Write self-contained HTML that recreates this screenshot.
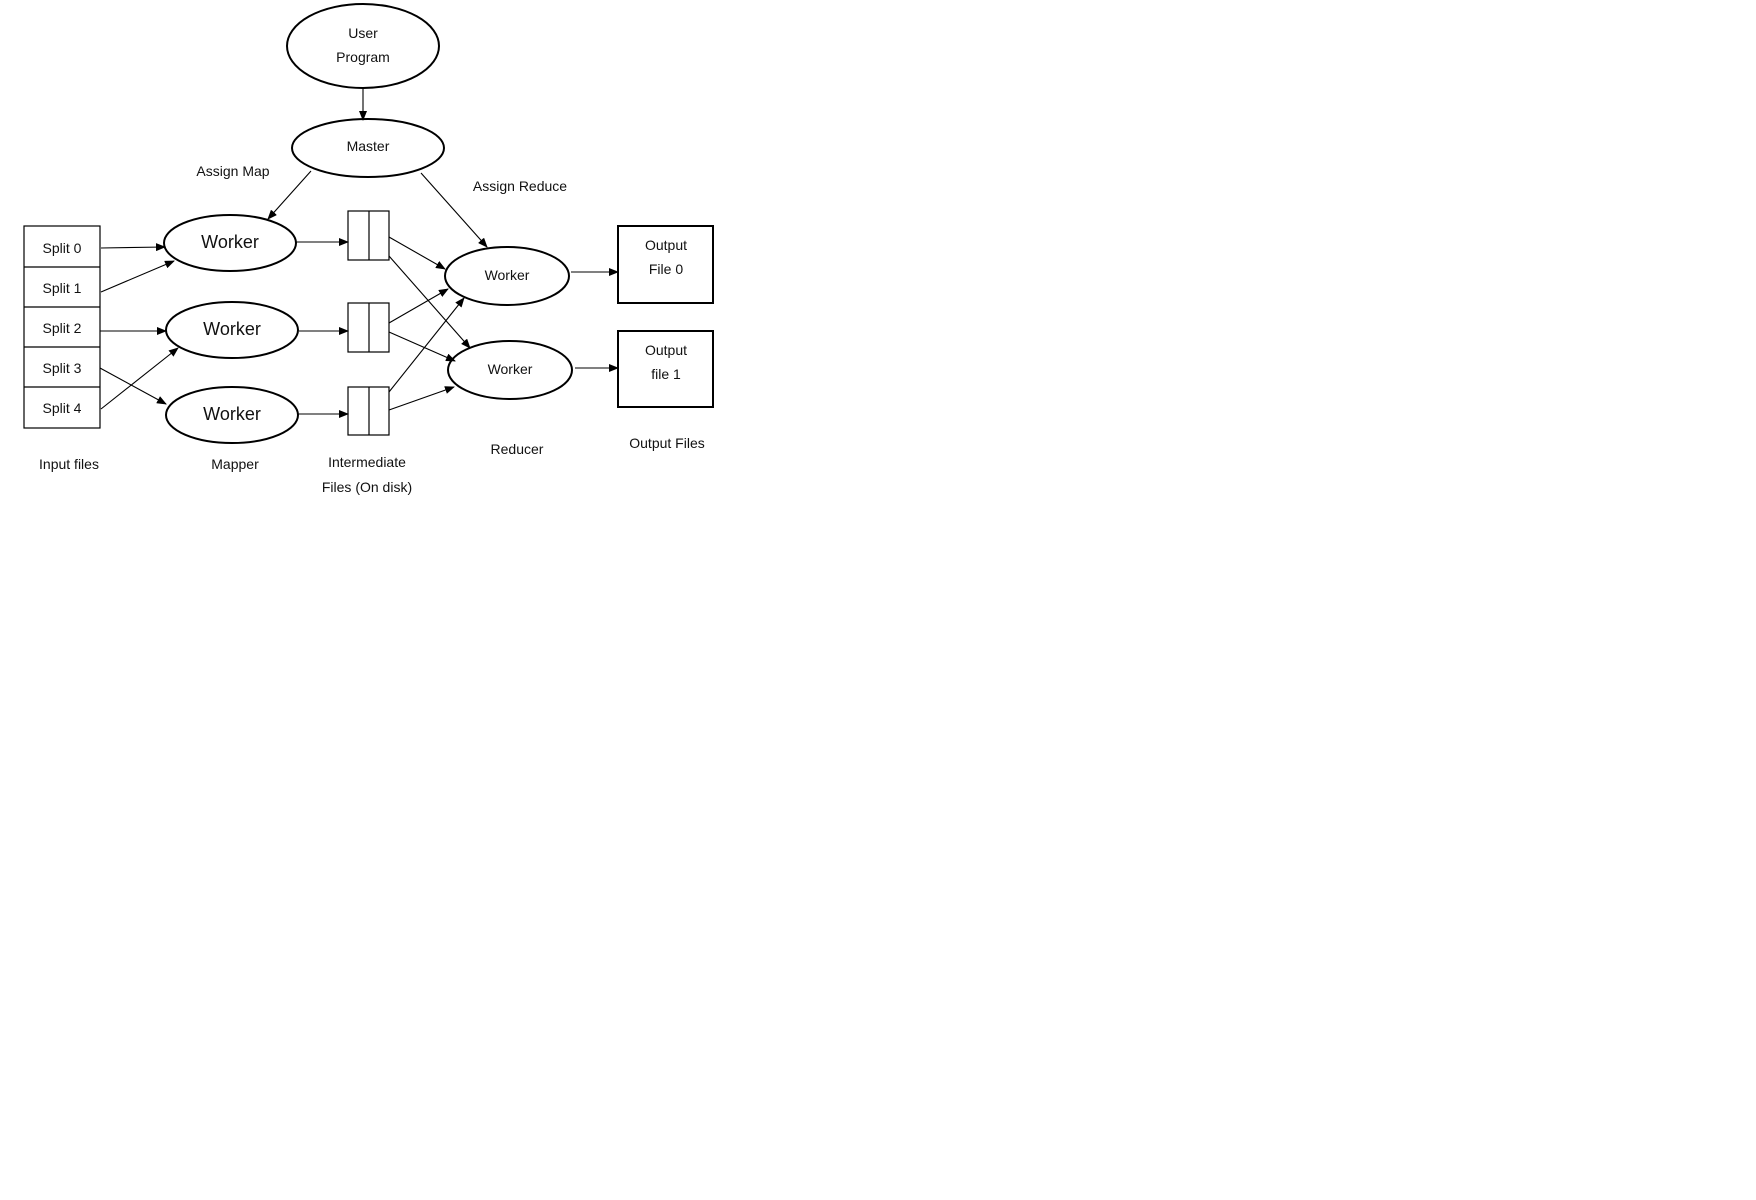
<!DOCTYPE html>
<html><head><meta charset="utf-8"><style>
html,body{margin:0;padding:0;background:#fff;width:1756px;height:1200px;overflow:hidden}
svg text{font-family:"Liberation Sans",sans-serif;fill:#111}
</style></head><body>
<svg width="1756" height="1200" viewBox="0 0 1756 1200" xmlns="http://www.w3.org/2000/svg">
<defs><marker id="a" markerWidth="10" markerHeight="8" refX="9" refY="4" orient="auto" markerUnits="userSpaceOnUse"><path d="M0,0 L10,4 L0,8 z" fill="#000"/></marker></defs>
<g fill="none" stroke="#000" stroke-width="2">
<ellipse cx="363" cy="46" rx="76" ry="42"/>
<ellipse cx="368" cy="148" rx="76" ry="29"/>
<ellipse cx="230" cy="243" rx="66" ry="28"/>
<ellipse cx="232" cy="330" rx="66" ry="28"/>
<ellipse cx="232" cy="415" rx="66" ry="28"/>
<ellipse cx="507" cy="276" rx="62" ry="29"/>
<ellipse cx="510" cy="370" rx="62" ry="29"/>
<rect x="618" y="226" width="95" height="77"/>
<rect x="618" y="331" width="95" height="76"/>
</g>
<g fill="none" stroke="#000" stroke-width="1.2">
<rect x="24" y="226" width="76" height="202"/>
<line x1="24" y1="267" x2="100" y2="267"/><line x1="24" y1="307" x2="100" y2="307"/>
<line x1="24" y1="347" x2="100" y2="347"/><line x1="24" y1="387" x2="100" y2="387"/>
<rect x="348" y="211" width="41" height="49"/><line x1="369" y1="211" x2="369" y2="260"/>
<rect x="348" y="303" width="41" height="49"/><line x1="369" y1="303" x2="369" y2="352"/>
<rect x="348" y="387" width="41" height="48"/><line x1="369" y1="387" x2="369" y2="435"/>
</g>
<g stroke="#000" stroke-width="1.1" marker-end="url(#a)">
<line x1="363" y1="88" x2="363" y2="120"/>
<line x1="311" y1="171" x2="268" y2="219"/>
<line x1="421" y1="173" x2="487" y2="247"/>
<line x1="101" y1="248" x2="165" y2="247"/>
<line x1="101" y1="292" x2="174" y2="261"/>
<line x1="100" y1="331" x2="166" y2="331"/>
<line x1="100" y1="368" x2="166" y2="404"/>
<line x1="101" y1="409" x2="178" y2="348"/>
<line x1="296" y1="242" x2="348" y2="242"/>
<line x1="299" y1="331" x2="348" y2="331"/>
<line x1="298" y1="414" x2="348" y2="414"/>
<line x1="389" y1="237" x2="445" y2="269"/>
<line x1="389" y1="256" x2="470" y2="348"/>
<line x1="389" y1="323" x2="448" y2="289"/>
<line x1="389" y1="332" x2="455" y2="361"/>
<line x1="389" y1="392" x2="464" y2="298"/>
<line x1="389" y1="410" x2="454" y2="387"/>
<line x1="571" y1="272" x2="618" y2="272"/>
<line x1="575" y1="368" x2="618" y2="368"/>
</g>
<g font-size="14" text-anchor="middle" dominant-baseline="central">
<text x="363" y="33">User</text><text x="363" y="57">Program</text>
<text x="368" y="146">Master</text>
<text x="233" y="171">Assign Map</text>
<text x="520" y="186">Assign Reduce</text>
<text x="62" y="248">Split 0</text><text x="62" y="288">Split 1</text>
<text x="62" y="328">Split 2</text><text x="62" y="368">Split 3</text><text x="62" y="408">Split 4</text>
<text x="507" y="275">Worker</text><text x="510" y="369">Worker</text>
<text x="666" y="245">Output</text><text x="666" y="269">File 0</text>
<text x="666" y="350">Output</text><text x="666" y="374">file 1</text>
<text x="69" y="464">Input files</text><text x="235" y="464">Mapper</text>
<text x="367" y="462">Intermediate</text><text x="367" y="487">Files (On disk)</text>
<text x="517" y="449">Reducer</text><text x="667" y="443">Output Files</text>
</g>
<g font-size="18" text-anchor="middle" dominant-baseline="central">
<text x="230" y="242">Worker</text><text x="232" y="329">Worker</text><text x="232" y="414">Worker</text>
</g>
</svg>
</body></html>
